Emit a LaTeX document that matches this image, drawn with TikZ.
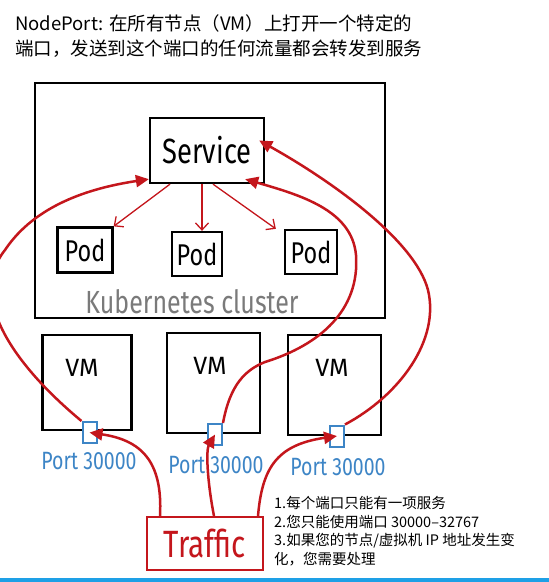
\documentclass[tikz,border=0pt]{standalone}
\usepackage{fontspec}
\setmainfont{Noto Sans CJK SC}
\newfontfamily\hand{Fira Sans}
\newfontfamily\handc[FakeStretch=0.78]{Fira Sans}
\usetikzlibrary{arrows.meta}
\definecolor{sred}{HTML}{C4161C}
\definecolor{sblue}{HTML}{3D85C6}
\definecolor{sgray}{HTML}{7A7A7A}
\definecolor{sbar}{HTML}{1EA0E6}
\tikzset{
  sketchbox/.style={draw=black, line width=2.3pt, inner sep=0pt},
  portbox/.style={draw=sblue, line width=2pt, inner sep=0pt, minimum width=14pt, minimum height=21pt},
  portlabel/.style={text=sblue, font=\handc\fontsize{25}{25}\selectfont, inner sep=0pt},
  podarrow/.style={draw=sred, line width=1.3pt, -{Straight Barb[length=7pt,width=13pt]}},
  flow/.style={draw=sred, line width=2.5pt, -{Triangle[length=13pt,width=12pt]}},
  titletext/.style={anchor=base west, inner sep=0pt, font=\fontsize{18.5}{26}\selectfont},
  notetext/.style={anchor=base west, inner sep=0pt, font=\fontsize{14.5}{18}\selectfont},
}
\begin{document}
\begin{tikzpicture}[x=1pt,y=-1pt]
\useasboundingbox (0,0) rectangle (549,582);
\fill[white] (0,0) rectangle (549,582);

% title
\node[titletext] (t1) at (15,30) {NodePort: 在所有节点（VM）上打开一个特定的};
\node[titletext] (t2) at (15,55.5) {端口，发送到这个端口的任何流量都会转发到服务};

% cluster
\node[sketchbox, minimum width=350pt, minimum height=235pt] (cluster) at (210,200.5) {};
\node[text=sgray, inner sep=0pt, font=\handc\fontsize{32}{32}\selectfont] (klabel) at (192,302) {Kubernetes cluster};

% service and pods
\node[sketchbox, minimum width=114pt, minimum height=65pt, font=\handc\fontsize{35}{35}\selectfont] (svc) at (207,150.5) {Service};
\node[sketchbox, minimum width=55pt, minimum height=45pt, font=\handc\fontsize{30}{30}\selectfont] (p1) at (85,250) {Pod};
\node[sketchbox, minimum width=50pt, minimum height=44pt, font=\handc\fontsize{30}{30}\selectfont] (p2) at (197,254) {Pod};
\node[sketchbox, minimum width=52pt, minimum height=44pt, font=\handc\fontsize{30}{30}\selectfont] (p3) at (311,252) {Pod};

\draw[podarrow] ([xshift=-37pt]svc.south) -- (p1.north east);
\draw[podarrow] ([xshift=-5pt]svc.south) -- ([xshift=5pt]p2.north);
\draw[podarrow] ([xshift=6pt]svc.south) -- ([xshift=-8pt]p3.north west);

% VMs
\node[sketchbox, minimum width=89pt, minimum height=95pt] (vm1) at (87,382.5) {};
\node[sketchbox, minimum width=93pt, minimum height=100pt] (vm2) at (213.5,383) {};
\node[sketchbox, minimum width=93pt, minimum height=100pt] (vm3) at (334.5,385) {};
\node[inner sep=0pt, font=\hand\fontsize{25}{25}\selectfont] (vm1t) at (82,368) {VM};
\node[inner sep=0pt, font=\hand\fontsize{25}{25}\selectfont] (vm2t) at (210,366) {VM};
\node[inner sep=0pt, font=\hand\fontsize{25}{25}\selectfont] (vm3t) at (332,368) {VM};

% ports
\node[portbox, fill=white] (port1) at (89.5,432.5) {};
\node[portbox, fill=white] (port2) at (215,434.5) {};
\node[portbox, fill=white] (port3) at (337,436) {};
\node[portlabel] (pl1) at (89,461) {Port 30000};
\node[portlabel] (pl2) at (216,465) {Port 30000};
\node[portlabel] (pl3) at (338,467) {Port 30000};

% traffic
\node[draw=sred, line width=2pt, minimum width=116pt, minimum height=53pt, inner sep=0pt, text=sred, font=\handc\fontsize{38}{38}\selectfont] (traffic) at (205,543.5) {Traffic};

% flows
\draw[flow] (port1.north west) .. controls (20,370) and (-35,300) .. (5,250)
  .. controls (35,205) and (90,188) .. ([yshift=5pt]svc.south west);
\draw[flow] ([xshift=14pt]traffic.north west) .. controls (163,460) and (140,440) .. (port1.center);
\draw[flow] ([xshift=68pt]traffic.north west) .. controls (207,480) and (206,450) .. (port2.center);
\draw[flow] (port2.north east) .. controls (230,385) and (245,370) .. (265,362)
  .. controls (320,345) and (360,310) .. (356,255)
  .. controls (352,210) and (300,195) .. ([xshift=-20pt,yshift=5pt]svc.south east);
\draw[flow] ([xshift=-6pt]traffic.north east) .. controls (262,470) and (275,445) .. (port3.center);
\draw[flow] (port3.north east) .. controls (400,395) and (440,340) .. (428,290)
  .. controls (415,240) and (330,180) .. ([xshift=-6pt,yshift=10pt]svc.east);

% notes
\node[notetext] (n1) at (274,508.5) {1.每个端口只能有一项服务};
\node[notetext] (n2) at (274,527) {2.您只能使用端口 30000–32767};
\node[notetext] (n3) at (274,545.5) {3.如果您的节点/虚拟机 IP 地址发生变};
\node[notetext] (n4) at (274,564) {化，您需要处理};

% bottom bar
\fill[sbar] (0,578) rectangle (549,582);
\end{tikzpicture}
\end{document}
